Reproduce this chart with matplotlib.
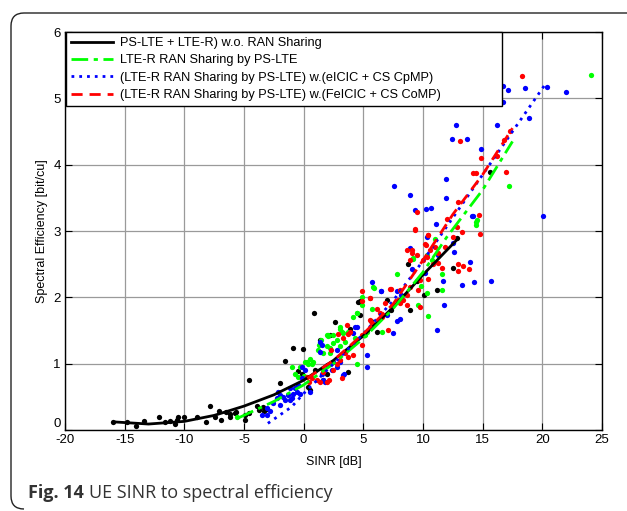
import matplotlib
matplotlib.use("Agg")
import matplotlib.pyplot as plt
from matplotlib.path import Path
from matplotlib.patches import PathPatch

plt.rcParams['font.family'] = ['Liberation Sans', 'DejaVu Sans']

# ---------------- data ----------------
legend_labels = [
    "PS-LTE + LTE-R) w.o. RAN Sharing",
    "LTE-R RAN Sharing by PS-LTE",
    "(LTE-R RAN Sharing by PS-LTE) w.(eICIC + CS CpMP)",
    "(LTE-R RAN Sharing by PS-LTE) w.(FeICIC + CS CoMP)",
]

# fitted curves
black_fit_x = [-15.7, -13, -10, -7.5, -5, -2.5, 0, 2.5, 5, 7.5, 10, 12.8]
black_fit_y = [0.12, 0.09, 0.13, 0.22, 0.36, 0.53, 0.75, 1.05, 1.42, 1.85, 2.34, 2.86]
green_fit_x = [-5.5, -2.5, 0, 2.5, 5, 7.5, 10, 12, 15, 17.5]
green_fit_y = [0.18, 0.43, 0.68, 1.0, 1.38, 1.83, 2.38, 2.91, 3.62, 4.35]
blue_fit_x = [-3, -1, 0, 2.5, 5, 7.5, 10, 12.5, 15, 17.5, 20.2]
blue_fit_y = [0.1, 0.35, 0.55, 1.0, 1.45, 1.95, 2.55, 3.2, 3.85, 4.5, 5.2]
red_fit_x = [0.3, 2.5, 5, 7.5, 10, 12.5, 15, 17.5]
red_fit_y = [0.78, 1.05, 1.45, 1.9, 2.56, 3.25, 3.85, 4.55]

# scatter samples
black_x = [-15.95, -14.83, -14.05, -13.35, -12.1, -11.6, -11.2, -10.78, -10.64, -10.5,
           -10.0, -8.9, -8.18, -7.85, -7.43, -7.07, -6.93, -6.53, -6.17, -5.75,
           -6.17, -5.67, -4.9, -4.9, -4.55, -4.55, -3.93, -3.71, -3.38, -3.29,
           -3.1, -1.98, -1.56, -0.86, -0.08, -0.44, -0.16, 0.54, 0.39, 0.96,
           1.37, 1.93, 1.65, 3.75, 2.2, 0.9, 2.63, 4.59, 3.89, 4.73,
           4.73, 5.62, 6.97, 7.3, 8.78, 8.92, 10.09, 11.16, 6.13, 12.55,
           9.53, 12.83, 15.62, 4.73]
black_y = [0.12, 0.12, 0.06, 0.14, 0.19, 0.12, 0.14, 0.09, 0.15, 0.2,
           0.19, 0.2, 0.12, 0.36, 0.2, 0.28, 0.15, 0.27, 0.24, 0.25,
           0.19, 0.27, 0.15, 0.22, 0.75, 0.25, 0.36, 0.3, 0.35, 0.28,
           0.31, 0.71, 1.04, 1.23, 1.22, 0.89, 0.85, 0.6, 0.65, 0.9,
           1.36, 0.85, 0.76, 0.88, 1.43, 1.76, 1.63, 1.93, 1.53, 1.93,
           1.73, 1.64, 1.96, 1.81, 2.5, 1.81, 2.04, 2.11, 1.48, 2.44,
           2.24, 2.89, 3.89, 1.95]

green_x = [-5.56, -0.72, -0.3, 0.12, 0.39, 0.54, 0.82, 1.32, 1.46, 1.65,
           2.07, 2.21, 2.49, 2.77, 3.05, 3.33, 3.75, 4.45, 2.21, 1.93,
           1.23, 0.68, 1.65, 1.93, 3.05, 4.45, 3.47, 0.26, 7.8, 5.79,
           4.45, 5.7, 4.87, 4.17, 3.05, 3.19, 2.49, 2.07, 6.55, 5.29,
           10.31, 10.45, 9.61, 9.2, 4.31, 5.15, 24.09, 17.17, 14.5, 14.45,
           11.0, 9.14, 10.31, 11.57, 5.93, 11.57, 9.84, 10.73, 4.87, 14.45,
           -1.0, -0.5, 0.0]
green_y = [0.19, 0.85, 0.95, 1.03, 1.0, 1.07, 1.03, 1.28, 1.36, 1.16,
           1.43, 1.23, 1.31, 1.36, 1.26, 1.46, 1.48, 1.0, 1.16, 1.27,
           1.21, 1.0, 0.9, 1.43, 1.56, 1.76, 1.33, 1.03, 2.35, 2.15,
           1.76, 1.82, 2.01, 1.71, 1.53, 1.48, 1.43, 1.42, 1.48, 1.48,
           2.06, 1.72, 1.88, 2.59, 1.38, 1.43, 5.35, 3.68, 3.17, 3.09,
           2.88, 2.58, 2.64, 2.35, 2.14, 2.11, 2.17, 2.56, 1.88, 3.14,
           0.95, 0.8, 0.82]

blue_x = [-3.04, -2.82, -2.54, -2.12, -1.98, -1.7, -1.56, -1.28, -1.14, -1.0,
          -0.86, -0.72, -0.58, -0.44, -0.3, -0.16, 0.12, 0.54, 1.37, 1.51,
          1.65, 1.93, 2.21, 2.49, 2.77, 3.05, 3.39, 5.29, 5.29, -3.1,
          -3.52, -2.26, -1.98, -1.14, -0.16, 1.51, 2.77, 3.33, 1.79, 4.45,
          1.37, 2.35, 5.7, 6.46, 7.8, 8.14, 8.92, 10.31, 11.16, 8.08,
          7.8, 7.52, 6.97, 10.18, 4.31, 4.17, 7.6, 8.92, 9.36, 10.23,
          10.68, 11.1, 11.94, 11.94, 12.41, 12.78, 13.67, 14.84, 14.09, 14.23,
          16.24, 16.74, 17.16, 16.69, 18.56, 18.92, 20.37, 21.97, 20.04, 13.98,
          14.31, 15.71, 13.25, 11.71, 11.29, 12.61, 12.55, 9.06, 6.49, 11.79]
blue_y = [0.23, 0.28, 0.4, 0.58, 0.38, 0.5, 0.45, 0.53, 0.63, 0.48,
          0.55, 0.63, 0.58, 0.68, 0.55, 0.95, 0.9, 0.58, 1.33, 0.85,
          0.75, 0.98, 1.0, 1.03, 0.95, 1.03, 0.85, 1.13, 0.95, 0.33,
          0.23, 0.48, 0.53, 0.45, 0.78, 1.28, 1.21, 0.83, 0.73, 1.56,
          1.18, 0.9, 2.23, 2.09, 2.09, 2.04, 2.74, 2.91, 1.51, 1.67,
          1.65, 1.46, 1.73, 2.36, 1.55, 1.46, 3.68, 3.54, 3.32, 3.33,
          3.34, 3.1, 3.79, 3.49, 4.39, 4.6, 4.39, 4.23, 3.23, 3.22,
          4.6, 4.95, 5.12, 5.19, 5.16, 4.7, 5.17, 5.1, 3.23, 2.54,
          2.23, 2.25, 2.19, 2.25, 2.64, 2.69, 2.82, 2.43, 2.1, 1.88]

red_x = [0.26, 0.48, 0.68, 1.1, 1.37, 1.93, 2.15, 2.49, 2.77, 3.19,
         3.47, 3.75, 3.89, 4.17, 4.87, 4.87, 2.3, 1.65, 3.05, 4.87,
         5.57, 7.24, 8.08, 7.94, 9.34, 10.4, 10.26, 11.01, 11.29, 9.06,
         8.92, 9.48, 9.76, 10.45, 8.08, 6.13, 6.4, 5.57, 6.55, 7.1,
         8.64, 3.61, 3.75, 2.91, 3.27, 5.7, 6.82, 18.33, 13.11, 16.79,
         17.3, 16.18, 14.87, 14.17, 14.45, 16.93, 12.91, 9.47, 14.73, 14.79,
         12.0, 13.25, 10.4, 9.36, 12.55, 12.83, 11.85, 13.89, 11.57, 12.97,
         12.91, 13.33, 8.69, 9.06, 10.18, 10.6, 10.31, 9.98, 11.29, 10.87,
         7.3, 8.92, 9.61, 8.69, 9.75, 5.57, 4.93, 8.3]
red_y = [0.8, 0.73, 0.78, 0.75, 0.73, 0.73, 0.76, 0.9, 1.0, 0.78,
         1.16, 1.1, 1.48, 1.13, 1.43, 1.28, 1.21, 0.88, 1.06, 1.95,
         1.99, 2.12, 2.11, 1.96, 3.02, 2.94, 2.79, 2.76, 2.67, 2.71,
         2.56, 2.64, 2.26, 2.27, 1.91, 1.83, 1.77, 1.66, 1.71, 1.51,
         1.88, 1.58, 1.45, 1.45, 1.38, 1.61, 1.91, 5.33, 4.36, 4.37,
         4.51, 4.13, 4.1, 3.88, 3.88, 3.89, 3.43, 3.28, 3.24, 2.95,
         3.18, 2.99, 2.94, 3.03, 2.91, 3.06, 2.76, 2.42, 2.44, 2.4,
         2.5, 2.47, 2.72, 2.67, 2.8, 2.71, 2.61, 2.56, 2.52, 2.5,
         2.12, 2.16, 2.11, 2.04, 1.86, 1.99, 2.1, 1.96]

x_ticks = [-20, -15, -10, -5, 0, 5, 10, 15, 20, 25]
y_ticks = [0, 1, 2, 3, 4, 5, 6]

caption_bold = "Fig. 14"
caption_text = "UE SINR to spectral efficiency"

# ---------------- figure ----------------
W, H = 627, 511
fig = plt.figure(figsize=(W / 100, H / 100), dpi=100)
ax = fig.add_axes([65 / W, 1 - 430 / H, 537 / W, 398 / H])

ms = 3.8
ax.plot(black_x, black_y, 'o', color='black', ms=ms, mec='none', zorder=3)
ax.plot(green_x, green_y, 'o', color='#00ff00', ms=ms, mec='none', zorder=3)
ax.plot(blue_x, blue_y, 'o', color='#0000ff', ms=ms, mec='none', zorder=3)
ax.plot(red_x, red_y, 'o', color='#ff0000', ms=ms, mec='none', zorder=3)

l1, = ax.plot(black_fit_x, black_fit_y, '-', color='black', lw=2, zorder=4)
l2, = ax.plot(green_fit_x, green_fit_y, color='#00ff00', lw=2, zorder=4,
              dashes=(6, 2, 1.5, 2))
l3, = ax.plot(blue_fit_x, blue_fit_y, color='#0000ff', lw=2, zorder=4,
              dashes=(1, 1.8))
l4, = ax.plot(red_fit_x, red_fit_y, color='#ff0000', lw=2, zorder=4,
              dashes=(4, 2.5))

ax.set_xlim(-20, 25)
ax.set_ylim(0, 6)
ax.set_xticks(x_ticks)
ax.set_yticks(y_ticks)
ax.set_xticklabels([str(t) for t in x_ticks])
ax.set_yticklabels([str(t) for t in y_ticks])
ax.grid(True, color='#9a9a9a', lw=0.9, zorder=0)
ax.tick_params(direction='in', length=5, width=0.8, top=True, right=True,
               labelsize=9.5)
ax.tick_params(axis='x', pad=3)
ax.tick_params(axis='y', pad=3)
ax.get_yticklabels()[0].set_verticalalignment('bottom')
for s in ax.spines.values():
    s.set_linewidth(1.0)

ax.set_xlabel("SINR [dB]", fontsize=9)
ax.set_ylabel("Spectral Efficiency [bit/cu]", fontsize=9)
ax.xaxis.set_label_coords(0.5, -0.065)
ax.yaxis.set_label_coords(-0.031, 0.5)

leg = ax.legend([l1, l2, l3, l4], legend_labels, loc='upper left',
                bbox_to_anchor=(0.002, 1.0, 0.812, 0.0), mode='expand',
                borderaxespad=0.0, fontsize=9.2, handlelength=3.3,
                labelspacing=0.42, handletextpad=0.5, borderpad=0.4,
                fancybox=False, framealpha=1.0, edgecolor='black')
leg.get_frame().set_linewidth(1.0)

# caption
cy = 1 - 493 / H
t1 = fig.text(28 / W, cy, caption_bold, fontsize=13, color='#333333',
              va='center', ha='left', family='Open Sans', weight='bold')
fig.canvas.draw()
bb = t1.get_window_extent()
fig.text((bb.x1 + 5) / W, cy, caption_text, fontsize=13,
         color='#333333', va='center', ha='left', family='Open Sans')

# outer rounded frame (left/top bracket)
r = 13
x0, y0 = 11, 13
yb = 509
verts = [(W, H - y0), (x0 + r, H - y0), (x0, H - y0), (x0, H - y0 - r),
         (x0, H - yb + r), (x0, H - yb), (x0 + r, H - yb)]
codes = [Path.MOVETO, Path.LINETO, Path.CURVE3, Path.CURVE3,
         Path.LINETO, Path.CURVE3, Path.CURVE3]
path = Path([(vx / W, vy / H) for vx, vy in verts], codes)
fig.patches.append(PathPatch(path, transform=fig.transFigure, fill=False,
                             edgecolor='#222222', lw=1.0))

fig.savefig("out.png", dpi=100)
